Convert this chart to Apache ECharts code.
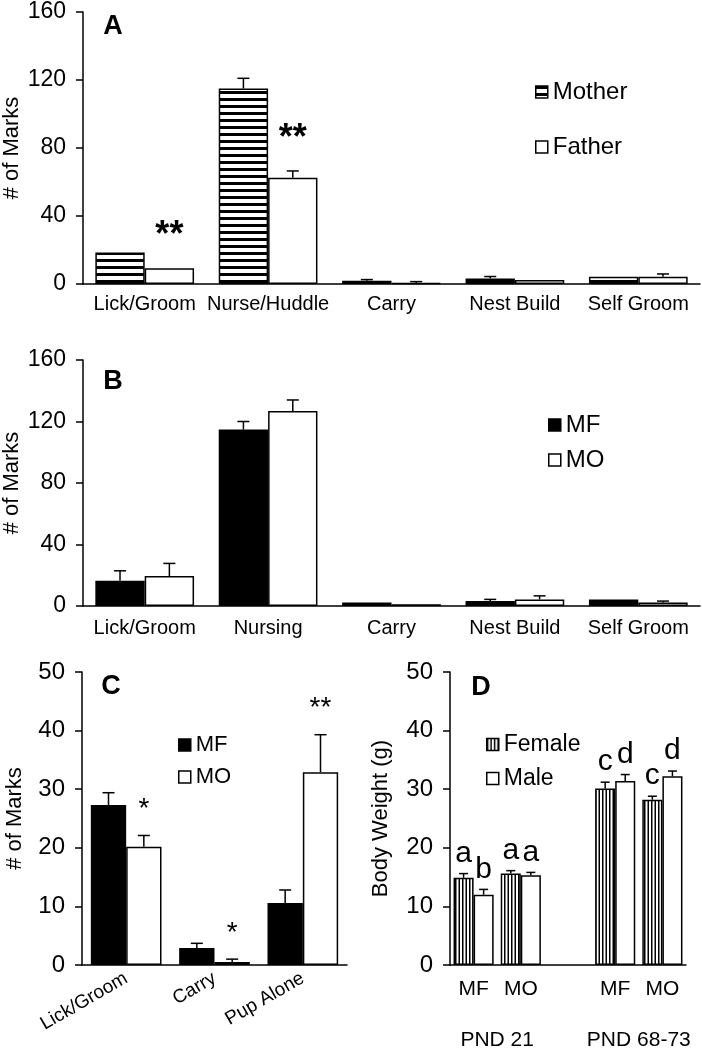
<!DOCTYPE html>
<html><head><meta charset="utf-8">
<script src="https://cdn.jsdelivr.net/npm/echarts@6/dist/echarts.min.js"></script>
<style>html,body{margin:0;padding:0;background:#fff}#c{width:702px;height:1050px}</style>
</head><body><div id="c"></div>
<script>
// ---------------- DATA ----------------
const catsA = ['Lick/Groom','Nurse/Huddle','Carry','Nest Build','Self Groom'];
const motherA = [18.5, 115, 1.9, 3.3, 4.3];
const motherErrA = [0, 6, 0.7, 1.1, 0];
const fatherA = [9.2, 62.5, 0.6, 2.4, 4.3];
const fatherErrA = [0, 4, 0.8, 0, 1.6];
const fatherSigA = ['**','**','','',''];

const catsB = ['Lick/Groom','Nursing','Carry','Nest Build','Self Groom'];
const mfB = [16.4, 114.8, 2.2, 3.3, 4.3];
const mfErrB = [6.5, 5.2, 0, 1.0, 0];
const moB = [19.5, 126.9, 1.2, 4.3, 2.2];
const moErrB = [8.2, 7.1, 0, 2.3, 1.0];

const catsC = ['Lick/Groom','Carry','Pup Alone'];
const mfC = [27.3, 2.9, 10.6];
const mfErrC = [2.1, 0.8, 2.2];
const moC = [20.2, 0.5, 32.9];
const moErrC = [1.9, 0.5, 6.4];
const moSigC = ['*','*','**'];

const catsD = ['MF','MO','','MF','MO'];
const groupsD = ['PND 21','PND 68-73'];
const femaleD = [14.9, 15.6, null, 30.1, 28.2];
const femaleErrD = [0.7, 0.5, null, 1.1, 0.6];
const femaleLetD = ['a','a','','c','c'];
const maleD = [12.0, 15.3, null, 31.4, 32.2];
const maleErrD = [0.9, 0.5, null, 1.1, 0.9];
const maleLetD = ['b','a','','d','d'];

// ---------------- STYLE HELPERS ----------------
const FONT = "'Liberation Sans', Arial, sans-serif";
function hStripes(){
  const c=document.createElement('canvas'); c.width=4; c.height=7;
  const g=c.getContext('2d'); g.fillStyle='#fff'; g.fillRect(0,0,4,7);
  g.fillStyle='#000'; g.fillRect(0,0,4,3);
  return {image:c, repeat:'repeat'};
}
function vStripes(){
  const c=document.createElement('canvas'); c.width=7; c.height=4;
  const g=c.getContext('2d'); g.fillStyle='#fff'; g.fillRect(0,0,7,4);
  g.fillStyle='#000'; g.fillRect(0,0,1.5,4); g.fillRect(3.5,0,1.5,4);
  return {image:c, repeat:'repeat'};
}
const axisLineStyle = {color:'#000', width:1.5};

function gridBox(left, top, width, height){
  return {left:left, top:top, width:width, height:height, containLabel:false, outerBoundsMode:'none'};
}
function xAx(grid, cats, fs, margin, rotate){
  return {gridIndex:grid, type:'category', data:cats,
    axisLine:{lineStyle:axisLineStyle}, axisTick:{show:false},
    axisLabel:{interval:0, fontSize:fs, color:'#000', margin:margin, rotate:rotate||0}};
}
function yAx(grid, max, interval, fs, name, nameFs, nameGap){
  return {gridIndex:grid, type:'value', min:0, max:max, interval:interval,
    axisLine:{show:true, lineStyle:axisLineStyle},
    axisTick:{show:true, length:7, lineStyle:axisLineStyle},
    splitLine:{show:false},
    axisLabel:{fontSize:fs, color:'#000', margin:17},
    name:name, nameLocation:'middle', nameGap:nameGap, nameMoveOverlap:false,
    nameTextStyle:{fontSize:nameFs, color:'#000'}};
}
function bar(grid, name, data, color, gap){
  return {type:'bar', name:name, xAxisIndex:grid, yAxisIndex:grid, data:data,
    barGap:'0%', barCategoryGap:gap, z:2,
    itemStyle:{color:color, borderColor:'#000', borderWidth:1.5}};
}
// error bars + annotation text (side: -1 left bar, +1 right bar)
function errBars(grid, vals, errs, side, gapFrac, cap, labels, labFont, labOff){
  const data=[];
  vals.forEach((v,i)=>{ if(v!=null) data.push([i, v, v+(errs[i]||0)]); });
  return {type:'custom', xAxisIndex:grid, yAxisIndex:grid, z:5, data:data, silent:true,
    renderItem:function(params, api){
      const i=api.value(0), v=api.value(1), top=api.value(2);
      const band=api.size([1,0])[0];
      const bw=band*(1-gapFrac)/2;
      const cx=api.coord([i,0])[0]+side*bw/2;
      const pv=api.coord([i,v])[1], pt=api.coord([i,top])[1];
      const ch=[];
      if(top>v){
        ch.push({type:'line', shape:{x1:cx,y1:pv,x2:cx,y2:pt}, style:{stroke:'#000',lineWidth:1.5}});
        ch.push({type:'line', shape:{x1:cx-cap/2,y1:pt,x2:cx+cap/2,y2:pt}, style:{stroke:'#000',lineWidth:1.5}});
      }
      const lab = labels ? labels[i] : '';
      if(lab){
        ch.push({type:'text', x:cx, y:pt-labOff, style:{text:lab, font:labFont, fill:'#000', align:'center', verticalAlign:'middle'}});
      }
      return {type:'group', children:ch};
    }};
}
function legend(names, left, top, fs, gap){
  return {data:names, left:left, top:top, orient:'vertical', icon:'rect', itemWidth:12, itemHeight:12,
    itemGap:gap, selectedMode:false, textStyle:{fontSize:fs, color:'#000'},
    itemStyle:{borderColor:'#000', borderWidth:1.5}};
}

const hPat=hStripes(), vPat=vStripes();

const option = {
  animation:false,
  backgroundColor:'#fff',
  textStyle:{fontFamily:FONT},
  grid:[
    gridBox(83, 12, 617, 272),
    gridBox(83, 360, 617, 246),
    gridBox(82, 672, 265, 293),
    gridBox(450, 672, 236, 293)
  ],
  xAxis:[
    xAx(0, catsA, 20, 10),
    xAx(1, catsB, 20, 12),
    xAx(2, catsC, 19, 12, 30),
    xAx(3, catsD, 21, 14)
  ],
  yAxis:[
    yAx(0, 160, 40, 23, '# of Marks', 22, 60),
    yAx(1, 160, 40, 23, '# of Marks', 22, 60),
    yAx(2, 50, 10, 24, '# of Marks', 22, 56),
    yAx(3, 50, 10, 24, 'Body Weight (g)', 22, 58)
  ],
  legend:[
    legend(['Mother','Father'], 530, 75, 24, 31),
    legend(['MF','MO'], 543, 408, 24, 11),
    legend(['MF','MO'], 173, 729, 22, 10),
    legend(['Female','Male'], 481, 728, 23, 11)
  ],
  series:[
    bar(0,'Mother',motherA,hPat,'20%'),
    bar(0,'Father',fatherA,'#fff','20%'),
    errBars(0,motherA,motherErrA,-1,0.2,12,null),
    errBars(0,fatherA,fatherErrA,1,0.2,12,fatherSigA,'bold 36px '+FONT,32),

    bar(1,'MF',mfB,'#000','20%'),
    bar(1,'MO',moB,'#fff','20%'),
    errBars(1,mfB,mfErrB,-1,0.2,12,null),
    errBars(1,moB,moErrB,1,0.2,12,null),

    bar(2,'MF',mfC,'#000','20%'),
    bar(2,'MO',moC,'#fff','20%'),
    errBars(2,mfC,mfErrC,-1,0.2,12,null),
    errBars(2,moC,moErrC,1,0.2,12,moSigC,'28px '+FONT,26),

    bar(3,'Female',femaleD,vPat,'15%'),
    bar(3,'Male',maleD,'#fff','15%'),
    errBars(3,femaleD,femaleErrD,-1,0.15,9,femaleLetD,'30px '+FONT,20),
    errBars(3,maleD,maleErrD,1,0.15,9,maleLetD,'30px '+FONT,20)
  ]
};

const chart = echarts.init(document.getElementById('c'), null, {renderer:'canvas'});
chart.setOption(option);

const panelFont = 'bold 27px '+FONT;
const gfx = [
  {id:'tA', type:'text', x:113, y:27, style:{text:'A', font:panelFont, fill:'#000', align:'center', verticalAlign:'middle'}},
  {id:'tB', type:'text', x:113, y:382, style:{text:'B', font:panelFont, fill:'#000', align:'center', verticalAlign:'middle'}},
  {id:'tC', type:'text', x:111, y:687, style:{text:'C', font:panelFont, fill:'#000', align:'center', verticalAlign:'middle'}},
  {id:'tD', type:'text', x:481, y:688, style:{text:'D', font:panelFont, fill:'#000', align:'center', verticalAlign:'middle'}}
];
const g1 = (chart.convertToPixel({xAxisIndex:3}, 0) + chart.convertToPixel({xAxisIndex:3}, 1))/2;
const g2 = (chart.convertToPixel({xAxisIndex:3}, 3) + chart.convertToPixel({xAxisIndex:3}, 4))/2;
[g1,g2].forEach((gx,k)=>{
  gfx.push({id:'pnd'+k, type:'text', x:gx, y:1040, style:{text:groupsD[k], font:'21px '+FONT, fill:'#000', align:'center', verticalAlign:'middle'}});
});
chart.setOption({graphic:gfx});
</script>
</body></html>
